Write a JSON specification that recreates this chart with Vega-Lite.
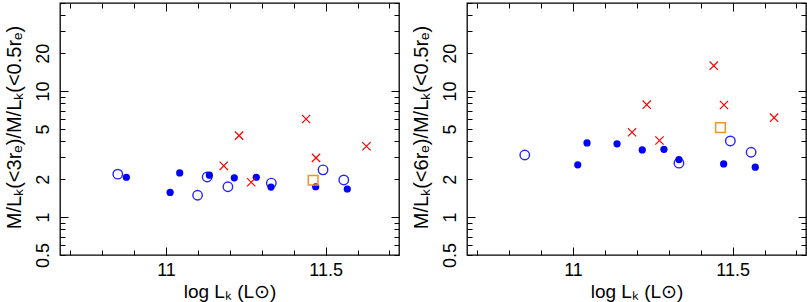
{
  "$schema": "https://vega.github.io/schema/vega-lite/v6.json",
  "padding": {"left": 3, "top": 1, "right": 0, "bottom": 0},
  "spacing": 9,
  "datasets": {
    "left": [
      {"logLK": 10.849, "ratio": 2.19, "kind": "open"},
      {"logLK": 11.099, "ratio": 1.49, "kind": "open"},
      {"logLK": 11.129, "ratio": 2.08, "kind": "open"},
      {"logLK": 11.194, "ratio": 1.74, "kind": "open"},
      {"logLK": 11.330, "ratio": 1.86, "kind": "open"},
      {"logLK": 11.492, "ratio": 2.37, "kind": "open"},
      {"logLK": 11.557, "ratio": 1.97, "kind": "open"},
      {"logLK": 10.876, "ratio": 2.07, "kind": "filled"},
      {"logLK": 11.013, "ratio": 1.57, "kind": "filled"},
      {"logLK": 11.043, "ratio": 2.24, "kind": "filled"},
      {"logLK": 11.136, "ratio": 2.15, "kind": "filled"},
      {"logLK": 11.214, "ratio": 2.05, "kind": "filled"},
      {"logLK": 11.283, "ratio": 2.07, "kind": "filled"},
      {"logLK": 11.329, "ratio": 1.73, "kind": "filled"},
      {"logLK": 11.469, "ratio": 1.74, "kind": "filled"},
      {"logLK": 11.568, "ratio": 1.67, "kind": "filled"},
      {"logLK": 11.181, "ratio": 2.55, "kind": "cross"},
      {"logLK": 11.229, "ratio": 4.43, "kind": "cross"},
      {"logLK": 11.267, "ratio": 1.89, "kind": "cross"},
      {"logLK": 11.439, "ratio": 6.0, "kind": "cross"},
      {"logLK": 11.470, "ratio": 2.95, "kind": "cross"},
      {"logLK": 11.628, "ratio": 3.65, "kind": "cross"},
      {"logLK": 11.461, "ratio": 1.96, "kind": "square"}
    ],
    "right": [
      {"logLK": 10.849, "ratio": 3.11, "kind": "open"},
      {"logLK": 11.332, "ratio": 2.68, "kind": "open"},
      {"logLK": 11.493, "ratio": 4.02, "kind": "open"},
      {"logLK": 11.558, "ratio": 3.27, "kind": "open"},
      {"logLK": 11.015, "ratio": 2.60, "kind": "filled"},
      {"logLK": 11.044, "ratio": 3.88, "kind": "filled"},
      {"logLK": 11.138, "ratio": 3.81, "kind": "filled"},
      {"logLK": 11.217, "ratio": 3.41, "kind": "filled"},
      {"logLK": 11.285, "ratio": 3.45, "kind": "filled"},
      {"logLK": 11.332, "ratio": 2.86, "kind": "filled"},
      {"logLK": 11.472, "ratio": 2.64, "kind": "filled"},
      {"logLK": 11.571, "ratio": 2.49, "kind": "filled"},
      {"logLK": 11.185, "ratio": 4.71, "kind": "cross"},
      {"logLK": 11.231, "ratio": 7.8, "kind": "cross"},
      {"logLK": 11.271, "ratio": 4.05, "kind": "cross"},
      {"logLK": 11.441, "ratio": 15.9, "kind": "cross"},
      {"logLK": 11.473, "ratio": 7.75, "kind": "cross"},
      {"logLK": 11.630, "ratio": 6.15, "kind": "cross"},
      {"logLK": 11.462, "ratio": 5.13, "kind": "square"}
    ]
  },
  "hconcat": [
    {
      "data": {"name": "left"},
      "width": 339,
      "height": 252,
      "layer": [
        {
          "transform": [{"filter": "datum.kind === 'open'"}],
          "mark": {"type": "point", "shape": "circle", "filled": false, "stroke": "#2424ff", "strokeWidth": 1.4, "size": 90, "opacity": 1},
          "encoding": {
            "x": {"field": "logLK", "type": "quantitative", "scale": {"domain": [10.668, 11.73], "nice": false, "zero": false},
              "axis": {"orient": "bottom", "zindex": 1, "domain": false, "grid": false, "ticks": true, "tickColor": "#000000", "tickWidth": 1, "offset": -5, "tickSize": 5, "values": [10.7, 10.8, 10.9, 11, 11.1, 11.2, 11.3, 11.4, 11.5, 11.6, 11.7],
                "labelExpr": "datum.value === 11 ? '11' : (datum.value === 11.5 ? '11.5' : '')", "labelPadding": 6, "labelFlush": false, "labelOverlap": false,
                "labelFont": "Liberation Sans", "labelFontSize": 18, "labelColor": "#000000",
                "title": "log Lₖ (L⊙)", "titleX": 169.5, "titleY": 41, "titleBaseline": "middle", "titleAlign": "center",
                "titleFont": "Liberation Sans", "titleFontSize": 19, "titleFontWeight": "normal", "titleColor": "#000000"}},
            "y": {"field": "ratio", "type": "quantitative", "scale": {"type": "log", "domain": [0.5, 50], "nice": false},
              "axis": {"orient": "left", "zindex": 1, "domain": false, "grid": false, "ticks": true, "tickColor": "#000000", "tickWidth": 1, "offset": -5, "tickSize": 5, "values": [0.5, 0.6, 0.7, 0.8, 0.9, 1, 2, 3, 4, 5, 6, 7, 8, 9, 10, 20, 30, 40, 50],
                "labelExpr": "indexof([0.5, 1, 2, 5, 10, 20], datum.value) >= 0 ? '' + datum.value : ''",
                "labelAngle": -90, "labelAlign": "center", "labelBaseline": "alphabetic", "labelPadding": 11.5, "labelFlush": false, "labelOverlap": false,
                "labelFont": "Liberation Sans", "labelFontSize": 18, "labelColor": "#000000",
                "title": "M/Lₖ(<3rₑ)/M/Lₖ(<0.5rₑ)", "titleX": -51, "titleY": 124, "titleAngle": -90, "titleAlign": "center", "titleBaseline": "middle",
                "titleFont": "Liberation Sans", "titleFontSize": 20, "titleFontWeight": "normal", "titleColor": "#000000"}}
          }
        },
        {
          "transform": [{"filter": "datum.kind === 'filled'"}],
          "mark": {"type": "point", "shape": "circle", "filled": true, "fill": "#0000ff", "size": 52, "opacity": 1},
          "encoding": {
            "x": {"field": "logLK", "type": "quantitative", "scale": {"domain": [10.668, 11.73], "nice": false, "zero": false},
              "axis": {"orient": "bottom", "zindex": 1, "domain": false, "grid": false, "ticks": true, "tickColor": "#000000", "tickWidth": 1, "offset": -8, "tickSize": 8, "values": [11, 11.5], "labels": false, "title": null}},
            "y": {"field": "ratio", "type": "quantitative", "scale": {"type": "log", "domain": [0.5, 50], "nice": false},
              "axis": {"orient": "left", "zindex": 1, "domain": false, "grid": false, "ticks": true, "tickColor": "#000000", "tickWidth": 1, "offset": -8, "tickSize": 8, "values": [1, 10], "labels": false, "title": null}}
          }
        },
        {
          "transform": [{"filter": "datum.kind === 'cross'"}],
          "mark": {"type": "point", "shape": "M-1,-1L1,1M-1,1L1,-1", "filled": false, "stroke": "#ff0000", "strokeWidth": 1.2, "size": 69, "opacity": 1},
          "encoding": {
            "x": {"field": "logLK", "type": "quantitative", "scale": {"domain": [10.668, 11.73], "nice": false, "zero": false},
              "axis": {"orient": "top", "zindex": 1, "domain": false, "grid": false, "ticks": true, "tickColor": "#000000", "tickWidth": 1, "offset": -5, "tickSize": 5, "values": [10.7, 10.8, 10.9, 11, 11.1, 11.2, 11.3, 11.4, 11.5, 11.6, 11.7], "labels": false, "title": null}},
            "y": {"field": "ratio", "type": "quantitative", "scale": {"type": "log", "domain": [0.5, 50], "nice": false},
              "axis": {"orient": "right", "zindex": 1, "domain": false, "grid": false, "ticks": true, "tickColor": "#000000", "tickWidth": 1, "offset": -5, "tickSize": 5, "values": [0.5, 0.6, 0.7, 0.8, 0.9, 1, 2, 3, 4, 5, 6, 7, 8, 9, 10, 20, 30, 40, 50], "labels": false, "title": null}}
          }
        },
        {
          "transform": [{"filter": "datum.kind === 'square'"}],
          "mark": {"type": "point", "shape": "square", "filled": false, "stroke": "#f39322", "strokeWidth": 1.5, "size": 94, "opacity": 1},
          "encoding": {
            "x": {"field": "logLK", "type": "quantitative", "scale": {"domain": [10.668, 11.73], "nice": false, "zero": false},
              "axis": {"orient": "top", "zindex": 1, "domain": false, "grid": false, "ticks": true, "tickColor": "#000000", "tickWidth": 1, "offset": -8, "tickSize": 8, "values": [11, 11.5], "labels": false, "title": null}},
            "y": {"field": "ratio", "type": "quantitative", "scale": {"type": "log", "domain": [0.5, 50], "nice": false},
              "axis": {"orient": "right", "zindex": 1, "domain": false, "grid": false, "ticks": true, "tickColor": "#000000", "tickWidth": 1, "offset": -8, "tickSize": 8, "values": [1, 10], "labels": false, "title": null}}
          }
        }
      ],
      "resolve": {"axis": {"x": "independent", "y": "independent"}}
    },
    {
      "data": {"name": "right"},
      "width": 339,
      "height": 252,
      "layer": [
        {
          "transform": [{"filter": "datum.kind === 'open'"}],
          "mark": {"type": "point", "shape": "circle", "filled": false, "stroke": "#2424ff", "strokeWidth": 1.4, "size": 90, "opacity": 1},
          "encoding": {
            "x": {"field": "logLK", "type": "quantitative", "scale": {"domain": [10.668, 11.73], "nice": false, "zero": false},
              "axis": {"orient": "bottom", "zindex": 1, "domain": false, "grid": false, "ticks": true, "tickColor": "#000000", "tickWidth": 1, "offset": -5, "tickSize": 5, "values": [10.7, 10.8, 10.9, 11, 11.1, 11.2, 11.3, 11.4, 11.5, 11.6, 11.7],
                "labelExpr": "datum.value === 11 ? '11' : (datum.value === 11.5 ? '11.5' : '')", "labelPadding": 6, "labelFlush": false, "labelOverlap": false,
                "labelFont": "Liberation Sans", "labelFontSize": 18, "labelColor": "#000000",
                "title": "log Lₖ (L⊙)", "titleX": 169.5, "titleY": 41, "titleBaseline": "middle", "titleAlign": "center",
                "titleFont": "Liberation Sans", "titleFontSize": 19, "titleFontWeight": "normal", "titleColor": "#000000"}},
            "y": {"field": "ratio", "type": "quantitative", "scale": {"type": "log", "domain": [0.5, 50], "nice": false},
              "axis": {"orient": "left", "zindex": 1, "domain": false, "grid": false, "ticks": true, "tickColor": "#000000", "tickWidth": 1, "offset": -5, "tickSize": 5, "values": [0.5, 0.6, 0.7, 0.8, 0.9, 1, 2, 3, 4, 5, 6, 7, 8, 9, 10, 20, 30, 40, 50],
                "labelExpr": "indexof([0.5, 1, 2, 5, 10, 20], datum.value) >= 0 ? '' + datum.value : ''",
                "labelAngle": -90, "labelAlign": "center", "labelBaseline": "alphabetic", "labelPadding": 11.5, "labelFlush": false, "labelOverlap": false,
                "labelFont": "Liberation Sans", "labelFontSize": 18, "labelColor": "#000000",
                "title": "M/Lₖ(<6rₑ)/M/Lₖ(<0.5rₑ)", "titleX": -51, "titleY": 124, "titleAngle": -90, "titleAlign": "center", "titleBaseline": "middle",
                "titleFont": "Liberation Sans", "titleFontSize": 20, "titleFontWeight": "normal", "titleColor": "#000000"}}
          }
        },
        {
          "transform": [{"filter": "datum.kind === 'filled'"}],
          "mark": {"type": "point", "shape": "circle", "filled": true, "fill": "#0000ff", "size": 52, "opacity": 1},
          "encoding": {
            "x": {"field": "logLK", "type": "quantitative", "scale": {"domain": [10.668, 11.73], "nice": false, "zero": false},
              "axis": {"orient": "bottom", "zindex": 1, "domain": false, "grid": false, "ticks": true, "tickColor": "#000000", "tickWidth": 1, "offset": -8, "tickSize": 8, "values": [11, 11.5], "labels": false, "title": null}},
            "y": {"field": "ratio", "type": "quantitative", "scale": {"type": "log", "domain": [0.5, 50], "nice": false},
              "axis": {"orient": "left", "zindex": 1, "domain": false, "grid": false, "ticks": true, "tickColor": "#000000", "tickWidth": 1, "offset": -8, "tickSize": 8, "values": [1, 10], "labels": false, "title": null}}
          }
        },
        {
          "transform": [{"filter": "datum.kind === 'cross'"}],
          "mark": {"type": "point", "shape": "M-1,-1L1,1M-1,1L1,-1", "filled": false, "stroke": "#ff0000", "strokeWidth": 1.2, "size": 69, "opacity": 1},
          "encoding": {
            "x": {"field": "logLK", "type": "quantitative", "scale": {"domain": [10.668, 11.73], "nice": false, "zero": false},
              "axis": {"orient": "top", "zindex": 1, "domain": false, "grid": false, "ticks": true, "tickColor": "#000000", "tickWidth": 1, "offset": -5, "tickSize": 5, "values": [10.7, 10.8, 10.9, 11, 11.1, 11.2, 11.3, 11.4, 11.5, 11.6, 11.7], "labels": false, "title": null}},
            "y": {"field": "ratio", "type": "quantitative", "scale": {"type": "log", "domain": [0.5, 50], "nice": false},
              "axis": {"orient": "right", "zindex": 1, "domain": false, "grid": false, "ticks": true, "tickColor": "#000000", "tickWidth": 1, "offset": -5, "tickSize": 5, "values": [0.5, 0.6, 0.7, 0.8, 0.9, 1, 2, 3, 4, 5, 6, 7, 8, 9, 10, 20, 30, 40, 50], "labels": false, "title": null}}
          }
        },
        {
          "transform": [{"filter": "datum.kind === 'square'"}],
          "mark": {"type": "point", "shape": "square", "filled": false, "stroke": "#f39322", "strokeWidth": 1.5, "size": 94, "opacity": 1},
          "encoding": {
            "x": {"field": "logLK", "type": "quantitative", "scale": {"domain": [10.668, 11.73], "nice": false, "zero": false},
              "axis": {"orient": "top", "zindex": 1, "domain": false, "grid": false, "ticks": true, "tickColor": "#000000", "tickWidth": 1, "offset": -8, "tickSize": 8, "values": [11, 11.5], "labels": false, "title": null}},
            "y": {"field": "ratio", "type": "quantitative", "scale": {"type": "log", "domain": [0.5, 50], "nice": false},
              "axis": {"orient": "right", "zindex": 1, "domain": false, "grid": false, "ticks": true, "tickColor": "#000000", "tickWidth": 1, "offset": -8, "tickSize": 8, "values": [1, 10], "labels": false, "title": null}}
          }
        }
      ],
      "resolve": {"axis": {"x": "independent", "y": "independent"}}
    }
  ],
  "config": {
    "view": {"stroke": "#000000", "strokeWidth": 1.3}
  }
}
